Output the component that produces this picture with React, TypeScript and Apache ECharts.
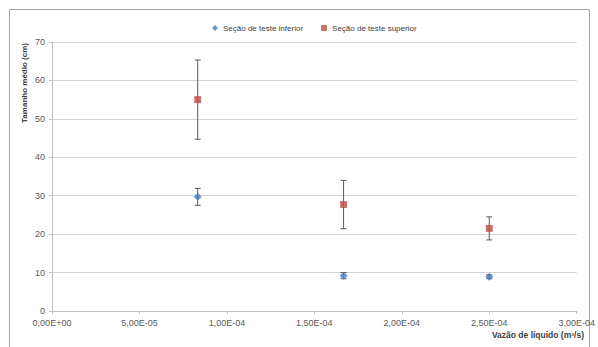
import React, { useEffect, useRef } from "react";
import * as echarts from "echarts";

const flowRates = [8.33e-5, 1.667e-4, 2.5e-4];
const inferiorMean = [29.7, 9.2, 8.9];
const inferiorErr = [2.2, 0.8, 0.5];
const superiorMean = [55.0, 27.7, 21.5];
const superiorErr = [10.3, 6.3, 3.0];
const seriesNames = ["Seção de teste inferior", "Seção de teste superior"];
const xAxisTitle = "Vazão de líquido (m³/s)";
const yAxisTitle = "Tamanho médio (cm)";

const FONT = "Liberation Sans";

function fmtSci(v: number): string {
  const s = v.toExponential(2);
  const [m, e] = s.split("e");
  const n = parseInt(e, 10);
  const sign = n < 0 ? "-" : "+";
  const ab = Math.abs(n).toString().padStart(2, "0");
  return m.replace(".", ",") + "E" + sign + ab;
}

function errData(means: number[], errs: number[]) {
  return flowRates.map((x, i) => [x, means[i] - errs[i], means[i] + errs[i]]);
}

function errRender(params: any, api: any) {
  const x = api.value(0);
  const lo = api.coord([x, api.value(1)]);
  const hi = api.coord([x, api.value(2)]);
  const cap = 3;
  const style = { stroke: "#595959", lineWidth: 1 };
  return {
    type: "group",
    children: [
      { type: "line", shape: { x1: lo[0], y1: lo[1], x2: hi[0], y2: hi[1] }, style },
      { type: "line", shape: { x1: lo[0] - cap, y1: lo[1], x2: lo[0] + cap, y2: lo[1] }, style },
      { type: "line", shape: { x1: hi[0] - cap, y1: hi[1], x2: hi[0] + cap, y2: hi[1] }, style },
    ],
  };
}

export default function App() {
  const ref = useRef<HTMLDivElement>(null);
  useEffect(() => {
    document.body.style.margin = "0";
    const chart = echarts.init(ref.current!, undefined, { renderer: "svg" });
    chart.setOption({
      animation: false,
      backgroundColor: "#ffffff",
      textStyle: { fontFamily: FONT },
      grid: { left: 52, right: 21, top: 42, bottom: 36, containLabel: false },
      legend: {
        top: 19,
        left: 207,
        itemWidth: 6,
        itemHeight: 6,
        itemGap: 18,
        textStyle: { fontSize: 8, color: "#404040", fontFamily: FONT },
        data: [
          { name: seriesNames[0], icon: "diamond" },
          { name: seriesNames[1], icon: "rect" },
        ],
      },
      xAxis: {
        type: "value",
        min: 0,
        max: 3e-4,
        interval: 5e-5,
        splitLine: { show: false },
        axisLine: { show: true, lineStyle: { color: "#bfbfbf" } },
        axisTick: { show: true, length: 3, lineStyle: { color: "#bfbfbf" } },
        axisLabel: { fontSize: 9, color: "#595959", margin: 7, formatter: (v: number) => fmtSci(v), fontFamily: FONT },
      },
      yAxis: {
        type: "value",
        min: 0,
        max: 70,
        interval: 10,
        splitLine: { show: true, lineStyle: { color: "#d4d4d4", width: 1 } },
        axisLine: { show: true, lineStyle: { color: "#bfbfbf" } },
        axisTick: { show: true, length: 3, lineStyle: { color: "#bfbfbf" } },
        axisLabel: { fontSize: 9, color: "#595959", margin: 7, fontFamily: FONT },
      },
      graphic: [
        {
          type: "rect",
          shape: { x: 9.5, y: 9.5, width: 580, height: 345 },
          style: { fill: "none", stroke: "#a6a6a6", lineWidth: 1 },
          silent: true,
          z: -1,
        },
        {
          type: "text",
          x: 24,
          y: 83,
          rotation: Math.PI / 2,
          style: {
            text: yAxisTitle,
            fontSize: 8,
            fontWeight: "bold",
            fill: "#404040",
            fontFamily: FONT,
            textAlign: "center",
            textVerticalAlign: "middle",
          },
        },
        {
          type: "text",
          x: 584,
          y: 335,
          style: {
            text: xAxisTitle,
            fontSize: 8.5,
            fontWeight: "bold",
            fill: "#404040",
            fontFamily: FONT,
            textAlign: "right",
            textVerticalAlign: "middle",
          },
        },
      ],
      series: [
        {
          name: seriesNames[0] + " erro",
          type: "custom",
          renderItem: errRender,
          data: errData(inferiorMean, inferiorErr),
          z: 1,
          silent: true,
        },
        {
          name: seriesNames[1] + " erro",
          type: "custom",
          renderItem: errRender,
          data: errData(superiorMean, superiorErr),
          z: 1,
          silent: true,
        },
        {
          name: seriesNames[0],
          type: "scatter",
          symbol: "diamond",
          symbolSize: 8,
          itemStyle: { color: "#4a7ebb" },
          data: flowRates.map((x, i) => [x, inferiorMean[i]]),
          z: 3,
        },
        {
          name: seriesNames[1],
          type: "scatter",
          symbol: "rect",
          symbolSize: 7,
          itemStyle: { color: "#be4b48" },
          data: flowRates.map((x, i) => [x, superiorMean[i]]),
          z: 3,
        },
      ],
    });
    return () => chart.dispose();
  }, []);
  return <div ref={ref} style={{ width: 598, height: 347 }} />;
}
